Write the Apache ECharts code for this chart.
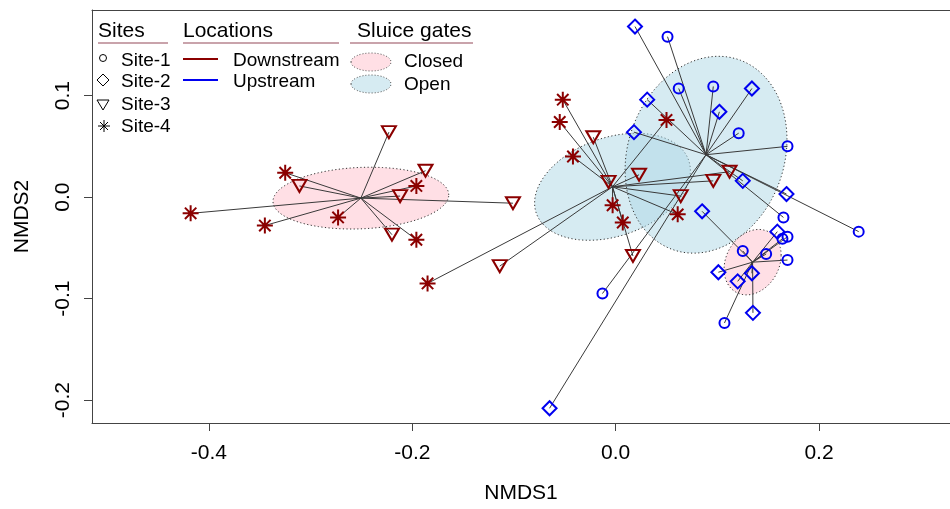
<!DOCTYPE html>
<html><head><meta charset="utf-8">
<script src="https://cdn.jsdelivr.net/npm/echarts@6/dist/echarts.min.js"></script>
<style>html,body{margin:0;padding:0;background:#fff;}#c{width:950px;height:509px;}</style>
</head><body><div id="c"></div>
<script>
// ---- data (NMDS scores) ----
const xTicks = [-0.4, -0.2, 0.0, 0.2];
const yTicks = [-0.2, -0.1, 0.0, 0.1];
const siteNames = ['Site-1', 'Site-2', 'Site-3', 'Site-4'];
const locationNames = ['Downstream', 'Upstream'];
const gateNames = ['Closed', 'Open'];

// Site-1 (Upstream)
const site1Open = [[0.051,0.158],[0.062,0.107],[0.096,0.109],[0.121,0.063],[0.169,0.050],[0.165,-0.020],[0.239,-0.034],[-0.013,-0.095]];
const site1Closed = [[0.125,-0.053],[0.148,-0.056],[0.164,-0.041],[0.169,-0.039],[0.169,-0.062],[0.107,-0.124]];
// Site-2 (Upstream)
const site2Open = [[0.019,0.168],[0.031,0.096],[0.018,0.064],[0.102,0.084],[0.134,0.107],[0.125,0.016],[0.168,0.003],[-0.065,-0.208]];
const site2Closed = [[0.085,-0.014],[0.159,-0.034],[0.101,-0.074],[0.120,-0.083],[0.134,-0.075],[0.135,-0.114]];
// Site-3 (Downstream)
const site3Open = [[-0.022,0.059],[-0.007,0.015],[0.023,0.022],[0.064,0.001],[0.096,0.016],[0.112,0.025],[0.017,-0.058],[-0.114,-0.068]];
const site3Closed = [[-0.223,0.064],[-0.311,0.011],[-0.212,0.001],[-0.187,0.026],[-0.220,-0.037],[-0.101,-0.006]];
// Site-4 (Downstream)
const site4Open = [[-0.052,0.096],[-0.055,0.074],[-0.042,0.040],[0.050,0.076],[0.061,-0.017],[-0.003,-0.008],[0.007,-0.025],[-0.185,-0.085]];
const site4Closed = [[-0.325,0.024],[-0.418,-0.016],[-0.345,-0.028],[-0.273,-0.020],[-0.196,0.011],[-0.196,-0.042]];

// ---- styling ----
const FONT = '"Liberation Sans", Arial, sans-serif';
const colDown = '#8b0000', colUp = '#0000f0';
const fillClosed = 'rgba(255,192,203,0.5)', fillOpen = 'rgba(173,216,230,0.5)';
const triPath = 'path://M0,0L16,0L8,13.8Z';
const astPath = 'path://M8,0L8,16M0,8L16,8M2.3,2.3L13.7,13.7M13.7,2.3L2.3,13.7';
const X_MIN = -0.515, X_MAX = 0.3288, Y_MIN = -0.2225, Y_MAX = 0.1843;

const groups = [
  {loc: 'Downstream', gate: 'Closed', pts: site3Closed.concat(site4Closed)},
  {loc: 'Downstream', gate: 'Open', pts: site3Open.concat(site4Open)},
  {loc: 'Upstream', gate: 'Open', pts: site1Open.concat(site2Open)},
  {loc: 'Upstream', gate: 'Closed', pts: site1Closed.concat(site2Closed)}
];
// centroid + 1-sd covariance ellipse per group
groups.forEach(g => {
  const n = g.pts.length;
  const mx = g.pts.reduce((s, p) => s + p[0], 0) / n;
  const my = g.pts.reduce((s, p) => s + p[1], 0) / n;
  let sxx = 0, syy = 0, sxy = 0;
  g.pts.forEach(p => { sxx += (p[0]-mx)**2; syy += (p[1]-my)**2; sxy += (p[0]-mx)*(p[1]-my); });
  sxx /= (n-1); syy /= (n-1); sxy /= (n-1);
  const a = Math.sqrt(sxx), b = sxy / a, c = Math.sqrt(Math.max(syy - b*b, 0));
  const ring = [];
  for (let i = 0; i < 100; i++) {
    const t = 2*Math.PI*i/100;
    ring.push([mx + Math.cos(t)*a, my + Math.cos(t)*b + Math.sin(t)*c]);
  }
  g.center = [mx, my];
  g.ring = ring;
});

const spiderData = [];
groups.forEach(g => g.pts.forEach(p => spiderData.push([p[0], p[1], g.center[0], g.center[1]])));

const siteSeries = [
  {name: siteNames[0], data: site1Open.concat(site1Closed), symbol: 'circle', size: 10, color: colUp},
  {name: siteNames[1], data: site2Open.concat(site2Closed), symbol: 'diamond', size: 14, color: colUp},
  {name: siteNames[2], data: site3Open.concat(site3Closed), symbol: triPath, size: [14, 12], color: colDown},
  {name: siteNames[3], data: site4Open.concat(site4Closed), symbol: astPath, size: 16, color: colDown}
];

const chart = echarts.init(document.getElementById('c'), null, {renderer: 'canvas'});

const txt = (t, x, y, size) => ({type: 'text', x: x, y: y, silent: true,
  style: {text: t, font: size + 'px ' + FONT, fill: '#000', align: 'left', verticalAlign: 'middle'}});
const ln = (x1, y1, x2, y2, col, w) => ({type: 'line', silent: true, shape: {x1, y1, x2, y2}, style: {stroke: col, lineWidth: w}});

const legend = [
  txt('Sites', 98, 31, 21), txt('Locations', 183, 31, 21), txt('Sluice gates', 357, 31, 21),
  ln(98, 43, 168, 43, '#c9a3ab', 2), ln(183, 43, 339, 43, '#c9a3ab', 2), ln(350, 43, 473, 43, '#c9a3ab', 2),
  {type: 'circle', silent: true, shape: {cx: 103, cy: 58, r: 3.5}, style: {fill: 'none', stroke: '#000', lineWidth: 1}},
  {type: 'polygon', silent: true, shape: {points: [[103, 74], [109, 80], [103, 86], [97, 80]]}, style: {fill: 'none', stroke: '#000', lineWidth: 1}},
  {type: 'polygon', silent: true, shape: {points: [[97, 100], [109, 100], [103, 110]]}, style: {fill: 'none', stroke: '#000', lineWidth: 1}},
  ln(104, 120, 104, 132, '#000', 1), ln(98, 126, 110, 126, '#000', 1), ln(100, 122, 108, 130, '#000', 1), ln(108, 122, 100, 130, '#000', 1),
  txt(siteNames[0], 121, 61, 19), txt(siteNames[1], 121, 82, 19), txt(siteNames[2], 121, 105, 19), txt(siteNames[3], 121, 127, 19),
  ln(183, 59, 218, 59, colDown, 2), ln(183, 80, 218, 80, colUp, 2),
  txt(locationNames[0], 233, 61, 19), txt(locationNames[1], 233, 82, 19),
  {type: 'ellipse', silent: true, shape: {cx: 371, cy: 62, rx: 20, ry: 9}, style: {fill: fillClosed, stroke: '#555', lineWidth: 1, lineDash: [1, 2]}},
  {type: 'ellipse', silent: true, shape: {cx: 371, cy: 84, rx: 20, ry: 9}, style: {fill: fillOpen, stroke: '#555', lineWidth: 1, lineDash: [1, 2]}},
  txt(gateNames[0], 404, 62, 19), txt(gateNames[1], 404, 85, 19)
];

const option = {
  animation: false,
  backgroundColor: '#fff',
  textStyle: {fontFamily: FONT},
  grid: {left: 92, top: 10, right: 0, bottom: 84, show: false},
  xAxis: [{
    type: 'value', min: X_MIN, max: X_MAX,
    name: 'NMDS1', nameLocation: 'middle', nameGap: 60,
    nameTextStyle: {fontSize: 21, color: '#000', fontFamily: FONT},
    axisLine: {show: true, onZero: false, lineStyle: {color: '#444', width: 1}},
    axisTick: {show: true, inside: false, length: 8, lineStyle: {color: '#444'}, customValues: xTicks},
    axisLabel: {show: true, fontSize: 21, color: '#000', margin: 20, fontFamily: FONT, customValues: xTicks, formatter: v => v.toFixed(1)},
    splitLine: {show: false}
  }, {
    type: 'value', position: 'top', min: X_MIN, max: X_MAX,
    axisLine: {show: true, onZero: false, lineStyle: {color: '#444', width: 1}},
    axisTick: {show: false}, axisLabel: {show: false}, splitLine: {show: false}
  }],
  yAxis: {
    type: 'value', min: Y_MIN, max: Y_MAX,
    name: 'NMDS2', nameLocation: 'middle', nameGap: 59, nameRotate: 90,
    nameTextStyle: {fontSize: 21, color: '#000', fontFamily: FONT},
    axisLine: {show: true, onZero: false, lineStyle: {color: '#444', width: 1}},
    axisTick: {show: true, inside: false, length: 8, lineStyle: {color: '#444'}, customValues: yTicks},
    axisLabel: {show: true, fontSize: 21, color: '#000', margin: 18, rotate: 90, fontFamily: FONT, customValues: yTicks, formatter: v => v.toFixed(1)},
    splitLine: {show: false}
  },
  graphic: legend,
  series: [
    {
      type: 'custom', name: 'ellipses', silent: true, z: 1,
      data: groups.map((g, i) => [g.center[0], g.center[1], i]),
      renderItem: (params, api) => {
        const g = groups[params.dataIndex];
        return {type: 'polygon', shape: {points: g.ring.map(p => api.coord(p))},
          style: {fill: g.gate === 'Closed' ? fillClosed : fillOpen, stroke: '#333', lineWidth: 1, lineDash: [1.2, 2.4]}};
      }
    },
    {
      type: 'custom', name: 'spider', silent: true, z: 2,
      data: spiderData,
      renderItem: (params, api) => {
        const p1 = api.coord([api.value(0), api.value(1)]);
        const p2 = api.coord([api.value(2), api.value(3)]);
        return {type: 'line', shape: {x1: p1[0], y1: p1[1], x2: p2[0], y2: p2[1]}, style: {stroke: '#3a3a3a', lineWidth: 1}};
      }
    }
  ].concat(siteSeries.map(s => ({
    type: 'scatter', name: s.name, data: s.data, symbol: s.symbol, symbolSize: s.size, z: 3, silent: true,
    itemStyle: {color: 'rgba(0,0,0,0)', borderColor: s.color, borderWidth: 2, opacity: 1},
    emphasis: {disabled: true}
  })))
};
chart.setOption(option);
</script></body></html>
